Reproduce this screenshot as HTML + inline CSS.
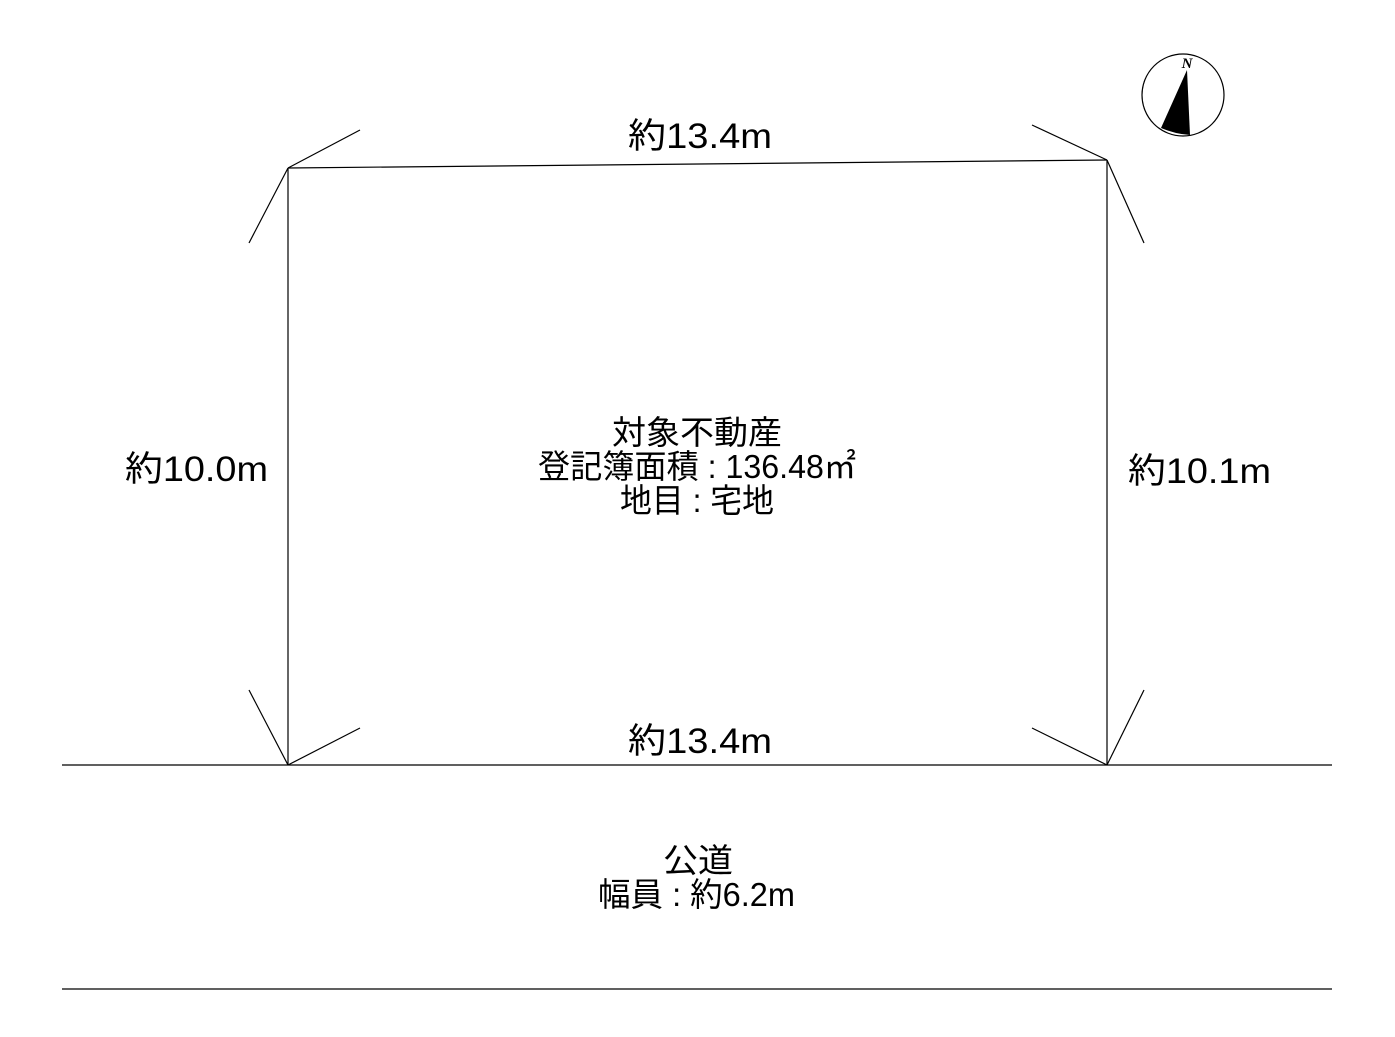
<!DOCTYPE html>
<html><head><meta charset="utf-8"><style>
html,body{margin:0;padding:0;background:#fff}
svg{display:block}
text{font-family:"Liberation Sans","Noto Sans CJK JP",sans-serif;fill:#000}
</style></head><body>
<svg width="1395" height="1037" viewBox="0 0 1395 1037" xmlns="http://www.w3.org/2000/svg">
<g stroke="#000" stroke-width="1.2" fill="none">
<line x1="288" y1="168" x2="1107" y2="160"/>
<line x1="288" y1="168" x2="288" y2="765"/>
<line x1="1107" y1="160" x2="1107" y2="765"/>
<line x1="62" y1="765" x2="1332" y2="765"/>
<line x1="62" y1="989" x2="1332" y2="989"/>
<line x1="288" y1="168" x2="360" y2="130"/>
<line x1="288" y1="168" x2="249" y2="243"/>
<line x1="1107" y1="160" x2="1032" y2="125"/>
<line x1="1107" y1="160" x2="1144" y2="243"/>
<line x1="288" y1="765" x2="249" y2="690"/>
<line x1="288" y1="765" x2="360" y2="728"/>
<line x1="1107" y1="765" x2="1032" y2="728"/>
<line x1="1107" y1="765" x2="1144" y2="690"/>
<circle cx="1183" cy="95" r="41"/>
</g>
<path d="M1187 70 L1161 128 Q1175 134 1190 135 Z" fill="#000"/>
<text x="1187" y="68" font-size="15" font-style="italic" font-weight="bold" text-anchor="middle" style="font-family:'Liberation Serif',serif">N</text>
<g font-size="35" lengthAdjust="spacingAndGlyphs">
<text x="628" y="148" textLength="144" lengthAdjust="spacingAndGlyphs">約13.4m</text>
<text x="628" y="753" textLength="144" lengthAdjust="spacingAndGlyphs">約13.4m</text>
<text x="125" y="481" textLength="143" lengthAdjust="spacingAndGlyphs">約10.0m</text>
<text x="1128" y="483" textLength="143" lengthAdjust="spacingAndGlyphs">約10.1m</text>
</g>
<g font-size="33">
<text x="612" y="444" textLength="170" lengthAdjust="spacingAndGlyphs">対象不動産</text>
<text x="538" y="478" textLength="318" lengthAdjust="spacingAndGlyphs">登記簿面積 : 136.48㎡</text>
<text x="620" y="512" textLength="154" lengthAdjust="spacingAndGlyphs">地目 : 宅地</text>
<text x="663" y="872" textLength="70" lengthAdjust="spacingAndGlyphs">公道</text>
<text x="598" y="906" textLength="197" lengthAdjust="spacingAndGlyphs">幅員 : 約6.2m</text>
</g>
</svg>
</body></html>
